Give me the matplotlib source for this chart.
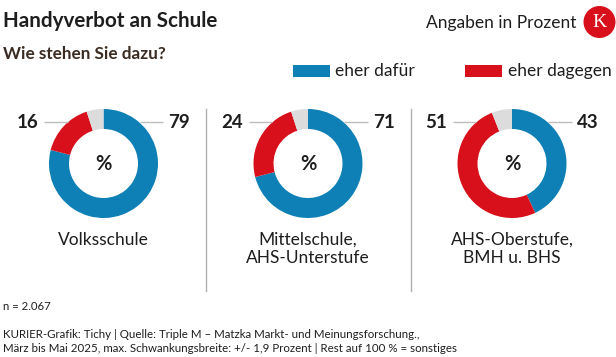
import matplotlib
matplotlib.use("Agg")
import matplotlib.pyplot as plt
from matplotlib.patches import Circle, Rectangle

# ---- data ----
categories = ["Volksschule", "Mittelschule,\nAHS-Unterstufe", "AHS-Oberstufe,\nBMH u. BHS"]
dafuer = [79, 71, 43]
dagegen = [16, 24, 51]
sonstiges = [100 - a - b for a, b in zip(dafuer, dagegen)]
legend_labels = ["eher dafür", "eher dagegen"]

BLUE = "#0e80b6"
RED = "#d8101b"
GRAY = "#dcdcdc"
TXT = "#1e1e1e"
FONT = ["Lato", "DejaVu Sans"]

W, H = 616, 357
fig = plt.figure(figsize=(W / 100, H / 100), dpi=100)
ax = fig.add_axes([0, 0, 1, 1])
plt.rcParams['font.family'] = FONT

def Y(y):
    return H - y

centers_x = [103.5, 308, 512]
cy = 163.5
R = 54.5
ring = 20

for i, cx in enumerate(centers_x):
    ax.pie([dafuer[i], dagegen[i], sonstiges[i]], colors=[BLUE, RED, GRAY],
           startangle=90, counterclock=False, radius=R, center=(cx, Y(cy)),
           wedgeprops=dict(width=ring, edgecolor="none"), frame=False)
    ax.text(cx, Y(cy + 1), "%", ha="center", va="center", fontsize=14.5,
            fontweight="bold", color=TXT, family=FONT)
    # leader lines
    ly = Y(122)
    ax.plot([cx - 59.5, cx - 36], [ly, ly], color="#bdbdbd", lw=1, solid_capstyle="butt")
    ax.plot([cx + 36, cx + 59.5], [ly, ly], color="#bdbdbd", lw=1, solid_capstyle="butt")
    ax.text(cx - 65, Y(123), str(dagegen[i]), ha="right", va="center",
            fontsize=13.5, fontweight="bold", color=TXT, family=FONT)
    ax.text(cx + 65, Y(123), str(dafuer[i]), ha="left", va="center",
            fontsize=13.5, fontweight="bold", color=TXT, family=FONT)
    ax.text(cx, Y(232), categories[i], ha="center", va="top", fontsize=12.5,
            color=TXT, family=FONT, linespacing=1.15)

# separators
for sx in [205.5, 410.5]:
    ax.plot([sx, sx], [Y(109), Y(291)], color="#b0b0b0", lw=1)

# title & subtitle
ax.text(3, Y(21), "Handyverbot an Schule", ha="left", va="center",
        fontsize=14.9, fontweight="bold", color=TXT, family=FONT)
ax.text(3, Y(54), "Wie stehen Sie dazu?", ha="left", va="center",
        fontsize=12.3, fontweight="bold", color="#3a2c22", family=FONT)
ax.text(576, Y(23), "Angaben in Prozent", ha="right", va="center",
        fontsize=12.5, color=TXT, family=FONT)
ax.add_patch(Circle((599.5, Y(22)), 16, color="#d8101b", ec="none"))
ax.text(599.5, Y(22.5), "K", ha="center", va="center", fontsize=14,
        color="white", family=["Liberation Serif", "DejaVu Serif"])

# legend
ax.add_patch(Rectangle((293, Y(77)), 37, 12, color=BLUE, ec="none"))
ax.text(335, Y(71), legend_labels[0], ha="left", va="center", fontsize=12.5,
        color=TXT, family=FONT)
ax.add_patch(Rectangle((465, Y(77)), 37, 12, color=RED, ec="none"))
ax.text(508, Y(71), legend_labels[1], ha="left", va="center", fontsize=12.5,
        color=TXT, family=FONT)

# footer
ax.text(3, Y(306), "n = 2.067", ha="left", va="center", fontsize=8.2,
        color=TXT, family=FONT)
ax.text(3, Y(334), "KURIER-Grafik: Tichy | Quelle: Triple M – Matzka Markt- und Meinungsforschung.,",
        ha="left", va="center", fontsize=8.25, color=TXT, family=FONT)
ax.text(3, Y(349), "März bis Mai 2025, max. Schwankungsbreite: +/- 1,9 Prozent | Rest auf 100 % = sonstiges",
        ha="left", va="center", fontsize=8.25, color=TXT, family=FONT)

ax.set_xlim(0, W)
ax.set_ylim(0, H)
ax.set_aspect("auto")
ax.axis("off")
fig.savefig("out.png", dpi=100)
